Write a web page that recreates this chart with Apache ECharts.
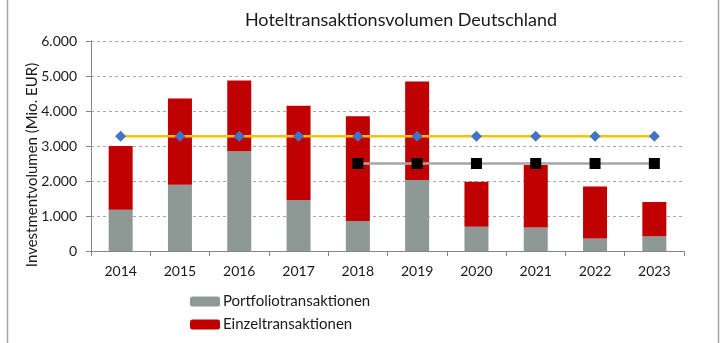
<!DOCTYPE html>
<html>
<head>
<meta charset="utf-8">
<script src="https://cdn.jsdelivr.net/npm/echarts@6/dist/echarts.min.js"></script>
<style>
  html, body { margin: 0; padding: 0; background: #fff; }
  #chart { width: 725px; height: 343px; }
</style>
</head>
<body>
<div id="chart"></div>
<script>
// Hotel transaction volume in Germany, million EUR
const years = ['2014', '2015', '2016', '2017', '2018', '2019', '2020', '2021', '2022', '2023'];
const portfolio = [1180, 1890, 2850, 1460, 860, 2030, 690, 670, 360, 420];
const einzel = [1820, 2470, 2020, 2690, 2990, 2810, 1290, 1790, 1480, 980];
// 10-year average and 5-year average
const avg10 = [3280, 3280, 3280, 3280, 3280, 3280, 3280, 3280, 3280, 3280];
const avg5 = [null, null, null, null, 2500, 2500, 2500, 2500, 2500, 2500];
const yTicks = { min: 0, max: 6000, interval: 1000 };

const FONT = 'Lato, "Noto Sans", sans-serif';
const chart = echarts.init(document.getElementById('chart'), null, { renderer: 'canvas' });

chart.setOption({
  animation: false,
  backgroundColor: '#ffffff',
  textStyle: { fontFamily: FONT },
  title: {
    text: 'Hoteltransaktionsvolumen Deutschland',
    left: 396, top: 6, textAlign: 'center',
    textStyle: { fontFamily: FONT, fontSize: 18, fontWeight: 'normal', color: '#1a1a1a' }
  },
  graphic: [{
    type: 'rect',
    shape: { x: 7.5, y: -2, width: 711, height: 348 },
    style: { fill: 'none', stroke: '#a6a6a6', lineWidth: 1.5 },
    silent: true
  }],
  legend: {
    data: ['Portfoliotransaktionen', 'Einzeltransaktionen'],
    orient: 'vertical',
    left: 185, top: 289,
    itemWidth: 30, itemHeight: 10, itemGap: 8,
    textStyle: { fontFamily: FONT, fontSize: 15, color: '#1a1a1a', padding: [0, 0, 0, -2] }
  },
  grid: { left: 91, right: 41, top: 41, bottom: 92, containLabel: false },
  xAxis: {
    type: 'category',
    data: years,
    axisLine: { lineStyle: { color: '#868686', width: 1 } },
    axisTick: { show: true, length: 5, lineStyle: { color: '#868686' } },
    axisLabel: { fontFamily: FONT, fontSize: 14, color: '#1a1a1a', margin: 13 }
  },
  yAxis: {
    type: 'value',
    min: yTicks.min, max: yTicks.max, interval: yTicks.interval,
    name: 'Investmentvolumen (Mio. EUR)',
    nameLocation: 'middle',
    nameGap: 51,
    nameMoveOverlap: false,
    nameTextStyle: { fontFamily: FONT, fontSize: 15, color: '#1a1a1a', padding: [0, 0, 0, -38] },
    axisLine: { show: true, lineStyle: { color: '#868686', width: 1 } },
    axisTick: { show: true, length: 5, lineStyle: { color: '#868686' } },
    axisLabel: {
      fontFamily: FONT, fontSize: 14, color: '#1a1a1a', margin: 14,
      formatter: v => v === 0 ? '0' : (v / 1000).toFixed(3)
    },
    splitLine: { lineStyle: { color: '#a6a6a6', type: [3, 3], width: 1 } }
  },
  series: [
    {
      name: 'Portfoliotransaktionen', type: 'bar', stack: 'vol',
      data: portfolio, barWidth: 24,
      itemStyle: { color: '#8e9894' }
    },
    {
      name: 'Einzeltransaktionen', type: 'bar', stack: 'vol',
      data: einzel, barWidth: 24,
      itemStyle: { color: '#c00000' }
    },
    {
      name: 'avg10', type: 'line', data: avg10, z: 5,
      symbol: 'diamond', symbolSize: 11,
      itemStyle: { color: '#4472c4' },
      lineStyle: { color: '#ffc000', width: 2.5 }
    },
    {
      name: 'avg5', type: 'line', data: avg5, z: 4,
      symbol: 'rect', symbolSize: 11,
      itemStyle: { color: '#000000' },
      lineStyle: { color: '#a6a6a6', width: 2.5 }
    }
  ]
});
</script>
</body>
</html>
